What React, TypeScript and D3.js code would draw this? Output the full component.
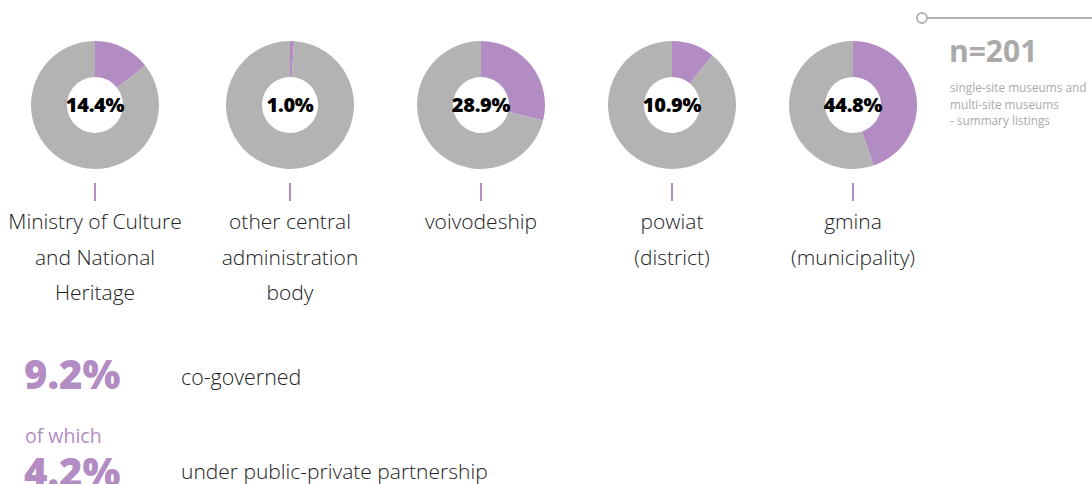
import React from "react";
import * as d3 from "d3";

const categories: string[][] = [
  ["Ministry of Culture", "and National", "Heritage"],
  ["other central", "administration", "body"],
  ["voivodeship"],
  ["powiat", "(district)"],
  ["gmina", "(municipality)"],
];
const shares: number[] = [14.4, 1.0, 28.9, 10.9, 44.8];
const centersX: number[] = [95, 290, 481, 672, 853];
const sampleLabel = "n=201";
const sampleNote: string[] = ["single-site museums and", "multi-site museums", "- summary listings"];
const coGoverned = { value: "9.2%", label: "co-governed" };
const ppp = { value: "4.2%", label: "under public-private partnership", pre: "of which" };

const PURPLE = "#b28cc2";
const GRAY = "#b3b3b3";
const FONT = "'Open Sans', 'Segoe UI', sans-serif";

export default function App() {
  const W = 1092, H = 484;
  const cy = 105;
  const R = 64, r = 28;
  const pie = d3.pie<number>().sort(null).value((d) => d);
  const arc = d3.arc<d3.PieArcDatum<number>>().innerRadius(r).outerRadius(R);

  return (
    <svg width={W} height={H} style={{ position: "absolute", left: 0, top: 0 }} fontFamily={FONT}>
      <line x1={927} y1={18} x2={W} y2={18} stroke={GRAY} strokeWidth={2} />
      <circle cx={922} cy={18} r={5} fill="white" stroke={GRAY} strokeWidth={2} />
      <text x={949} y={62} fontSize={30} fontWeight={700} fill="#aaaaaa">{sampleLabel}</text>
      {sampleNote.map((t, i) => (
        <text key={i} x={950} y={92 + i * 16.5} fontSize={11.8} fill="#aaaaaa">{t}</text>
      ))}

      {shares.map((v, i) => {
        const arcs = pie([v, 100 - v]);
        const cx = centersX[i];
        return (
          <g key={i}>
            <g transform={`translate(${cx},${cy})`}>
              {arcs.map((a, j) => (
                <path key={j} d={arc(a) || ""} fill={j === 0 ? PURPLE : GRAY} />
              ))}
              <text x={0} y={7} textAnchor="middle" fontSize={20} fontWeight={800} fill="#000" letterSpacing={-0.3}>
                {v.toFixed(1)}%
              </text>
            </g>
            <line x1={cx} y1={183} x2={cx} y2={201} stroke={PURPLE} strokeWidth={2} />
            {categories[i].map((t, k) => (
              <text key={k} x={cx} y={229 + k * 35.5} textAnchor="middle" fontSize={21} fontWeight={300} fill="#222">
                {t}
              </text>
            ))}
          </g>
        );
      })}

      <text x={24} y={389} fontSize={40} fontWeight={800} fill={PURPLE}>{coGoverned.value}</text>
      <text x={181} y={385} fontSize={21.4} fontWeight={300} fill="#222">{coGoverned.label}</text>
      <text x={25} y={443} fontSize={19.5} fontWeight={400} fill={PURPLE}>{ppp.pre}</text>
      <text x={24} y={487} fontSize={40} fontWeight={800} fill={PURPLE}>{ppp.value}</text>
      <text x={181} y={479} fontSize={21} fontWeight={300} fill="#222">{ppp.label}</text>
    </svg>
  );
}
